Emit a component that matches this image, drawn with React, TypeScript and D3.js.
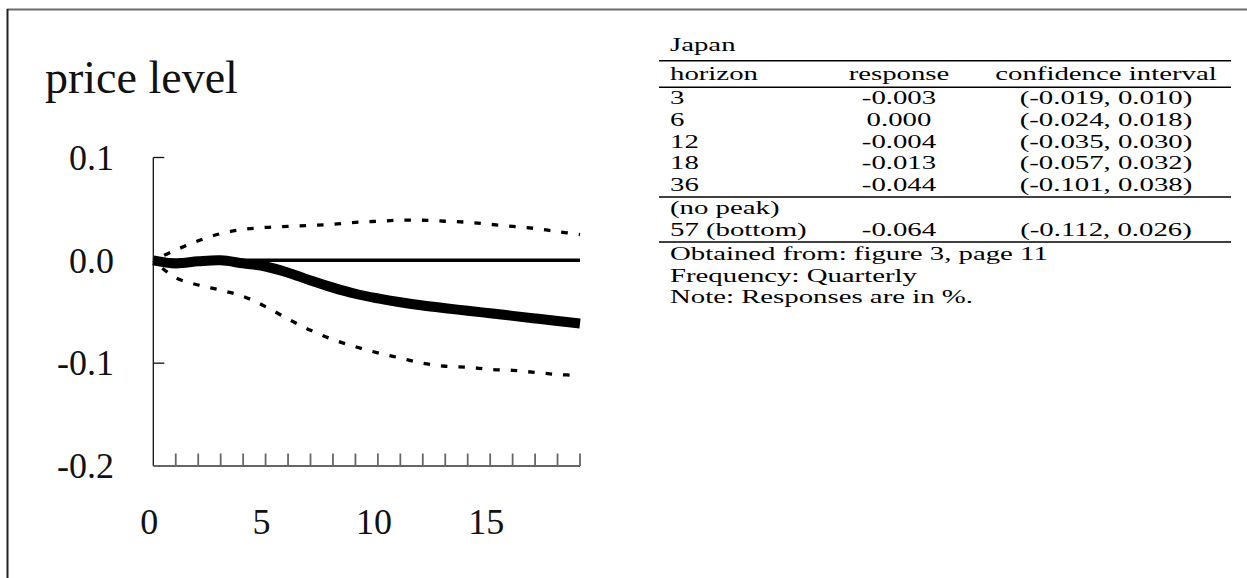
import React from "react";
import * as d3 from "d3";

// ---------- chart data (quarters after shock) ----------
const quarters = [0, 1, 2, 3, 4, 5, 6, 7, 8, 9, 10, 11, 12, 13, 14, 15, 16, 17, 18, 19];
const response = [0, -0.003, -0.001, 0.0, -0.003, -0.006, -0.012, -0.0195, -0.0265, -0.0325, -0.037, -0.0408, -0.044, -0.0466, -0.049, -0.0515, -0.054, -0.0565, -0.059, -0.0615];
const lowerCI = [0, -0.017, -0.024, -0.029, -0.035, -0.045, -0.057, -0.068, -0.077, -0.084, -0.09, -0.095, -0.1, -0.103, -0.104, -0.106, -0.107, -0.109, -0.111, -0.112];
const upperCI = [0, 0.01, 0.019, 0.026, 0.03, 0.032, 0.033, 0.034, 0.035, 0.037, 0.038, 0.039, 0.039, 0.038, 0.037, 0.035, 0.033, 0.031, 0.028, 0.025];

const yTickValues = [0.1, 0.0, -0.1, -0.2];
const yTickLabels = ["0.1", "0.0", "-0.1", "-0.2"];
const yMinorTicks = [0.1, -0.1];
const xLabelValues = [0, 5, 10, 15];
const xLabelTexts = ["0", "5", "10", "15"];
const chartTitle = "price level";

// ---------- table data ----------
const tableTitle = "Japan";
const tableHeaders = ["horizon", "response", "confidence interval"];
const tableHorizons = ["3", "6", "12", "18", "36"];
const tableResponses = ["-0.003", "0.000", "-0.004", "-0.013", "-0.044"];
const tableIntervals = ["(-0.019, 0.010)", "(-0.024, 0.018)", "(-0.035, 0.030)", "(-0.057, 0.032)", "(-0.101, 0.038)"];
const peakHorizons = ["(no peak)", "57 (bottom)"];
const peakResponses = ["", "-0.064"];
const peakIntervals = ["", "(-0.112, 0.026)"];
const tableNotes = ["Obtained from: figure 3, page 11", "Frequency: Quarterly", "Note: Responses are in %."];

const W = 1247;
const H = 578;

export default function App() {
  const x = d3.scaleLinear().domain([0, 19]).range([153.3, 580]);
  const y = d3.scaleLinear().domain([-0.2, 0.1]).range([466, 157.5]);

  const lineGen = d3
    .line<number>()
    .x((_, i) => x(quarters[i]))
    .y((d) => y(d))
    .curve(d3.curveCatmullRom.alpha(0.5));

  const serif = "'Liberation Serif', 'Times New Roman', serif";

  // table layout (stretched horizontally like the reference)
  const TX0 = 659;
  const SX = 1.6;
  const tx = (px: number) => (px - TX0) / SX;
  const colLeft = tx(670);
  const colMid = tx(899);
  const colRight = tx(1106);
  const ruleEnd = tx(1231);
  const rowBase = 104.5;
  const rowStep = 21.6;

  const x0 = x(0);
  const x19 = x(19);
  const yBottom = y(-0.2);
  const yTop = y(0.1);

  return (
    <svg
      width={W}
      height={H}
      style={{ position: "absolute", left: 0, top: 0, background: "#fff" }}
    >
      {/* frame */}
      <line x1={7} x2={W} y1={9.5} y2={9.5} stroke="#6a6a6a" strokeWidth={2} />
      <line x1={7.5} x2={7.5} y1={9} y2={H} stroke="#222" strokeWidth={2} />

      {/* title */}
      <text x={45} y={93} fontFamily={serif} fontSize={46} fill="#111">
        {chartTitle}
      </text>

      {/* y axis */}
      <line x1={x0} x2={x0} y1={yTop} y2={yBottom} stroke="#111" strokeWidth={1.3} />
      {yMinorTicks.map((v) => (
        <line key={"yt" + v} x1={x0} x2={x0 + 11} y1={y(v)} y2={y(v)} stroke="#111" strokeWidth={1.3} />
      ))}
      {yTickValues.map((v, i) => (
        <text
          key={"yl" + i}
          x={114}
          y={y(v)}
          dy="0.34em"
          textAnchor="end"
          fontFamily={serif}
          fontSize={36}
          fill="#111"
        >
          {yTickLabels[i]}
        </text>
      ))}

      {/* x axis */}
      <line x1={x0} x2={x19} y1={yBottom} y2={yBottom} stroke="#666" strokeWidth={1.8} />
      {quarters.slice(1).map((q) => (
        <line key={"xt" + q} x1={x(q)} x2={x(q)} y1={yBottom} y2={yBottom - 12.5} stroke="#666" strokeWidth={1.8} />
      ))}
      {xLabelValues.map((v, i) => (
        <text
          key={"xl" + i}
          x={x(v) - 4}
          y={534}
          textAnchor="middle"
          fontFamily={serif}
          fontSize={36}
          fill="#111"
        >
          {xLabelTexts[i]}
        </text>
      ))}

      {/* zero line */}
      <line x1={x0} x2={x19} y1={y(0)} y2={y(0)} stroke="#000" strokeWidth={3.5} />

      {/* confidence bands */}
      <path d={lineGen(upperCI) || ""} fill="none" stroke="#000" strokeWidth={3.3} strokeDasharray="6.5 11" strokeDashoffset={-12} />
      <path d={lineGen(lowerCI) || ""} fill="none" stroke="#000" strokeWidth={3.3} strokeDasharray="6.5 11" strokeDashoffset={-12} />

      {/* response */}
      <path d={lineGen(response) || ""} fill="none" stroke="#000" strokeWidth={10} />

      {/* table */}
      <g transform={`translate(${TX0},0) scale(${SX},1)`} fontFamily={serif} fontSize={18} fill="#000">
        <text x={colLeft} y={51}>{tableTitle}</text>
        <line x1={0} x2={ruleEnd} y1={60.7} y2={60.7} stroke="#000" strokeWidth={1.4} />
        <text x={colLeft} y={80}>{tableHeaders[0]}</text>
        <text x={colMid} y={80} textAnchor="middle">{tableHeaders[1]}</text>
        <text x={colRight} y={80} textAnchor="middle">{tableHeaders[2]}</text>
        <line x1={0} x2={ruleEnd} y1={87.3} y2={87.3} stroke="#000" strokeWidth={1.4} />
        {tableHorizons.map((h, i) => (
          <g key={"r" + i}>
            <text x={colLeft} y={rowBase + i * rowStep}>{h}</text>
            <text x={colMid} y={rowBase + i * rowStep} textAnchor="middle">{tableResponses[i]}</text>
            <text x={colRight} y={rowBase + i * rowStep} textAnchor="middle">{tableIntervals[i]}</text>
          </g>
        ))}
        <line x1={0} x2={ruleEnd} y1={197} y2={197} stroke="#000" strokeWidth={1.4} />
        {peakHorizons.map((h, i) => (
          <g key={"p" + i}>
            <text x={colLeft} y={214.5 + i * rowStep}>{h}</text>
            <text x={colMid} y={214.5 + i * rowStep} textAnchor="middle">{peakResponses[i]}</text>
            <text x={colRight} y={214.5 + i * rowStep} textAnchor="middle">{peakIntervals[i]}</text>
          </g>
        ))}
        <line x1={0} x2={ruleEnd} y1={242} y2={242} stroke="#000" strokeWidth={1.4} />
        {tableNotes.map((n, i) => (
          <text key={"n" + i} x={colLeft} y={260 + i * rowStep}>{n}</text>
        ))}
      </g>
    </svg>
  );
}
